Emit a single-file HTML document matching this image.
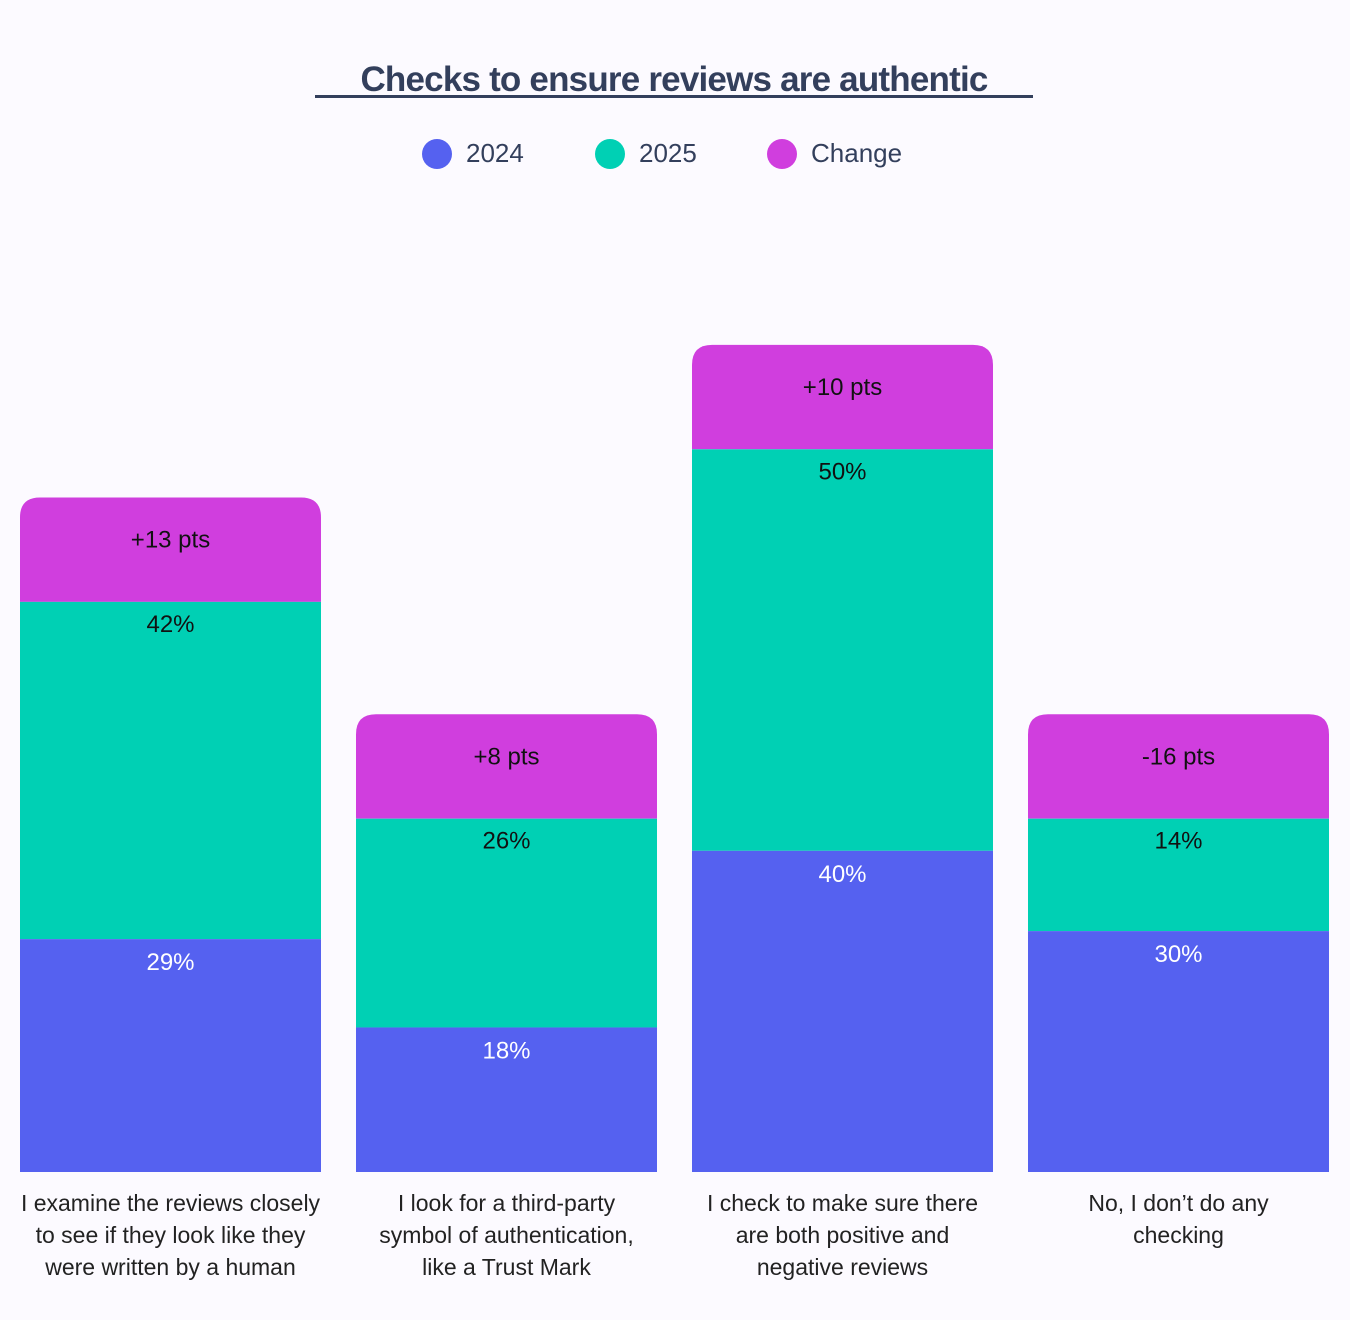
<!DOCTYPE html>
<html><head><meta charset="utf-8"><style>
body{margin:0;background:#fcfaff;font-family:"Liberation Sans",sans-serif;}
svg{display:block}
</style></head><body>
<svg id="chart" width="1350" height="1320" viewBox="0 0 1350 1320" xmlns="http://www.w3.org/2000/svg">
<rect width="1350" height="1320" fill="#fcfaff"/>
<text x="674" y="91" text-anchor="middle" font-size="35" font-weight="bold" fill="#333f5c" letter-spacing="-0.8">Checks to ensure reviews are authentic</text>
<rect x="315" y="95" width="718" height="3" fill="#333f5c"/>
<g>
<g><circle cx="437" cy="154" r="15" fill="#5561f0"/><text x="466" y="162" font-size="26" fill="#333f5c">2024</text></g>
<g><circle cx="610" cy="154" r="15" fill="#00d0b4"/><text x="639" y="162" font-size="26" fill="#333f5c">2025</text></g>
<g><circle cx="782" cy="154" r="15" fill="#d03ede"/><text x="811" y="162" font-size="26" fill="#333f5c">Change</text></g>
</g>
<g id="bars"></g>
</svg>
<script>
const categories = [
  ["I examine the reviews closely","to see if they look like they","were written by a human"],
  ["I look for a third-party","symbol of authentication,","like a Trust Mark"],
  ["I check to make sure there","are both positive and","negative reviews"],
  ["No, I don’t do any","checking"]
];
const values2024 = [29, 18, 40, 30];
const values2025 = [42, 26, 50, 14];
const changeValues = [13, 8, 10, -16];
const changeSegment = [13, 13, 13, 13];

const ns = "http://www.w3.org/2000/svg";
const g = document.getElementById("bars");
const baseY = 1172, pxPerUnit = 8.03;
const x0 = 20, barW = 301, gap = 35;
const y = v => baseY - v * pxPerUnit;
const xPos = i => x0 + i * (barW + gap);
function mk(tag, attrs, parent) {
  const e = document.createElementNS(ns, tag);
  for (const k in attrs) e.setAttribute(k, attrs[k]);
  parent.appendChild(e);
  return e;
}
categories.forEach((cat, i) => {
  const x = xPos(i);
  const grp = mk("g", {}, g);
  
  
  const t1 = values2024[i], t2 = t1 + values2025[i], t3 = t2 + changeSegment[i];
  const yTop = y(t3), yMid = y(t2), r = 20;
  const ch = mk("path", {d: `M${x},${yMid} L${x},${yTop + r} Q${x},${yTop} ${x + r},${yTop} L${x + barW - r},${yTop} Q${x + barW},${yTop} ${x + barW},${yTop + r} L${x + barW},${yMid} Z`, fill: "#d03ede"}, grp);
  
  
  const b2 = mk("rect", {x: x, y: y(t2), width: barW, height: y(t1) - y(t2), fill: "#00d0b4"}, grp);
  
  
  const b1 = mk("rect", {x: x, y: y(t1), width: barW, height: baseY - y(t1), fill: "#5561f0"}, grp);
  
  
  const cx = x + barW / 2;
  const cv = changeValues[i];
  const l3 = mk("text", {x: cx, y: yTop + 50, "text-anchor": "middle", "font-size": "24", fill: "#111"}, grp);
  l3.textContent = (cv > 0 ? "+" : "") + cv + " pts";
  
  
  const l2 = mk("text", {x: cx, y: y(t2) + 30, "text-anchor": "middle", "font-size": "24", fill: "#111"}, grp);
  l2.textContent = values2025[i] + "%";
  
  
  const l1 = mk("text", {x: cx, y: y(t1) + 31, "text-anchor": "middle", "font-size": "24", fill: "#fff"}, grp);
  l1.textContent = values2024[i] + "%";
  
  
  const cl = mk("text", {x: cx, "text-anchor": "middle", "font-size": "23", fill: "#222"}, grp);
  
  
  cat.forEach((line, j) => {
    const ts = mk("tspan", {x: cx, y: 1211 + j * 32}, cl);
    ts.textContent = line;
  });
});
</script>
</body></html>
